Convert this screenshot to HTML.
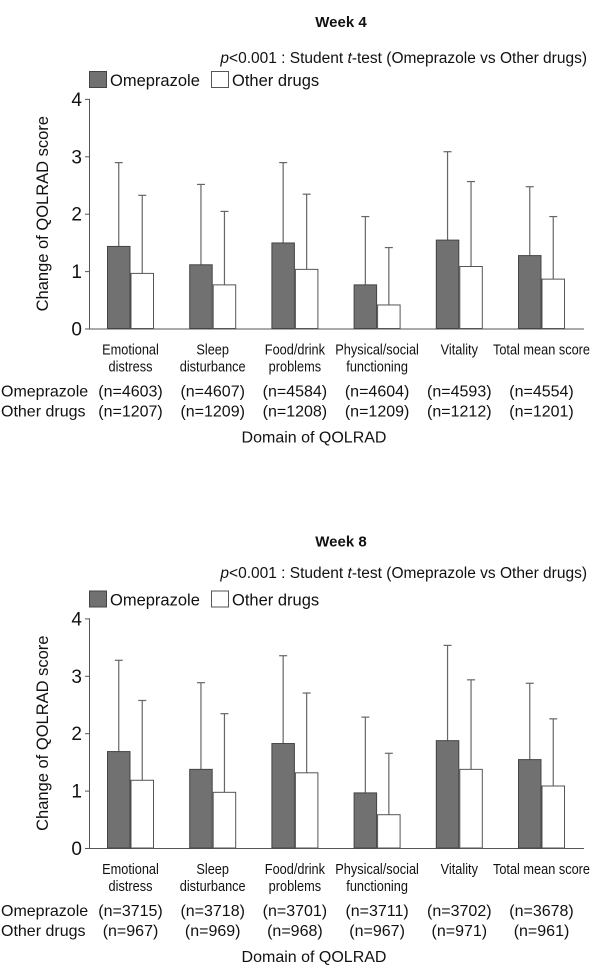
<!DOCTYPE html>
<html><head><meta charset="utf-8"><style>
html,body{margin:0;padding:0;background:#fff;}
svg{display:block;font-family:"Liberation Sans","Noto Sans CJK KR",sans-serif;}
</style></head><body>
<svg id="chart" width="600" height="971" viewBox="0 0 600 971" xmlns="http://www.w3.org/2000/svg"></svg>
<script>
const categories1 = ["Emotional|distress","Sleep|disturbance","Food/drink|problems","Physical/social|functioning","Vitality","Total mean score"];
const w4Omep = [1.43,1.11,1.49,0.76,1.54,1.27];
const w4OmepTop = [2.89,2.51,2.89,1.95,3.08,2.47];
const w4Other = [0.96,0.76,1.03,0.41,1.08,0.86];
const w4OtherTop = [2.32,2.04,2.34,1.41,2.56,1.95];
const w4NOmep = ["4603","4607","4584","4604","4593","4554"];
const w4NOther = ["1207","1209","1208","1209","1212","1201"];
const w8Omep = [1.68,1.37,1.82,0.96,1.87,1.54];
const w8OmepTop = [3.27,2.88,3.35,2.28,3.53,2.87];
const w8Other = [1.18,0.97,1.31,0.58,1.37,1.08];
const w8OtherTop = [2.57,2.34,2.70,1.65,2.93,2.25];
const w8NOmep = ["3715","3718","3701","3711","3702","3678"];
const w8NOther = ["967","969","968","967","971","961"];
const yTicks = [0,1,2,3,4];

const svg = document.getElementById('chart');
const NS = 'http://www.w3.org/2000/svg';
function mk(tag, attrs, parent){const e=document.createElementNS(NS,tag);for(const k in attrs)e.setAttribute(k,attrs[k]);(parent||svg).appendChild(e);return e;}
function txt(s, attrs, parent){const e=mk('text',attrs,parent);e.textContent=s;return e;}

function drawPanel(off, pY, title, omep, omepTop, other, otherTop, nO, nX){
  const g = mk('g',{});
  
  
  const y0 = 328.5+off, yPer = 57.4;
  const y = v => y0 - v*yPer;
  const gx = i => 107 + i*82.2;
  const bw = 23.5;
  let t = txt(title,{x:341,y:27+off,'text-anchor':'middle','font-size':15,'font-weight':'bold',fill:'#111'},g);
  
  
  t = mk('text',{x:587,y:pY,'text-anchor':'end','font-size':15.5,fill:'#111'},g);
  t.innerHTML='<tspan font-style="italic">p</tspan>&lt;0.001 : Student <tspan font-style="italic">t</tspan>-test (Omeprazole vs Other drugs)';
  
  
  let r = mk('rect',{x:89.5,y:71.5+off,width:17,height:16,fill:'#717171',stroke:'#444'},g);
  
  
  t = txt('Omeprazole',{x:110,y:86+off,'font-size':16.5,fill:'#111'},g);
  
  
  r = mk('rect',{x:211.5,y:71.5+off,width:17,height:16,fill:'#fff',stroke:'#555'},g);
  
  
  t = txt('Other drugs',{x:232,y:86+off,'font-size':16.5,fill:'#111'},g);
  
  
  let l = mk('line',{x1:89.5,y1:y(4),x2:89.5,y2:y0,stroke:'#555','stroke-width':1},g);
  
  
  l = mk('line',{x1:89,y1:y0+0.5,x2:584,y2:y0+0.5,stroke:'#555','stroke-width':1},g);
  
  
  yTicks.forEach(v=>{
    const tk = mk('line',{x1:85,y1:y(v)+0.5,x2:89.5,y2:y(v)+0.5,stroke:'#555'},g);
    
    
    const tl = txt(String(v),{x:82,y:y(v)+7,'text-anchor':'end','font-size':19,fill:'#111'},g);
    
    
  });
  t = txt('Change of QOLRAD score',{x:0,y:0,'text-anchor':'middle','font-size':16.5,fill:'#111',transform:`translate(48,${y(2)}) rotate(-90)`},g);
  
  
  categories1.forEach((c,i)=>{
    const x = gx(i);
    [[omep[i],omepTop[i],x,'#717171','#444','omeprazole'],[other[i],otherTop[i],x+bw,'#fff','#555','other']].forEach(([v,top,bx,fill,st,nm])=>{
      const ex = mk('line',{x1:bx+bw/2,y1:y(top),x2:bx+bw/2,y2:y(v),stroke:'#666','stroke-width':1.2},g);
      
      
      const cap = mk('line',{x1:bx+bw/2-4,y1:y(top),x2:bx+bw/2+4,y2:y(top),stroke:'#666','stroke-width':1.2},g);
      
      
      const b = mk('rect',{x:bx+0.5,y:y(v),width:bw-1,height:y0-y(v),fill:fill,stroke:st,'stroke-width':1},g);
      
      
    });
    const cx = x+bw;
    c.split('|').forEach((line,j)=>{
      const ct = txt(line,{x:cx,y:y0+26+j*17,'text-anchor':'middle','font-size':14.5,fill:'#111'},g);
      ct.setAttribute('transform',`translate(${cx},0) scale(0.88,1) translate(${-cx},0)`);
      
      
    });
    const n1 = txt(`(n=${nO[i]})`,{x:cx,y:y0+68,'text-anchor':'middle','font-size':16,fill:'#111'},g);
    
    
    const n2 = txt(`(n=${nX[i]})`,{x:cx,y:y0+88,'text-anchor':'middle','font-size':16,fill:'#111'},g);
    
    
  });
  t = txt('Omeprazole',{x:1,y:y0+68,'font-size':16,fill:'#111'},g);
  
  
  t = txt('Other drugs',{x:1,y:y0+88,'font-size':16,fill:'#111'},g);
  
  
  t = txt('Domain of QOLRAD',{x:314,y:y0+114,'text-anchor':'middle','font-size':16,fill:'#111'},g);
  
  
}
drawPanel(0,63,'Week 4',w4Omep,w4OmepTop,w4Other,w4OtherTop,w4NOmep,w4NOther);
drawPanel(519.5,578,'Week 8',w8Omep,w8OmepTop,w8Other,w8OtherTop,w8NOmep,w8NOther);
</script>
</body></html>
